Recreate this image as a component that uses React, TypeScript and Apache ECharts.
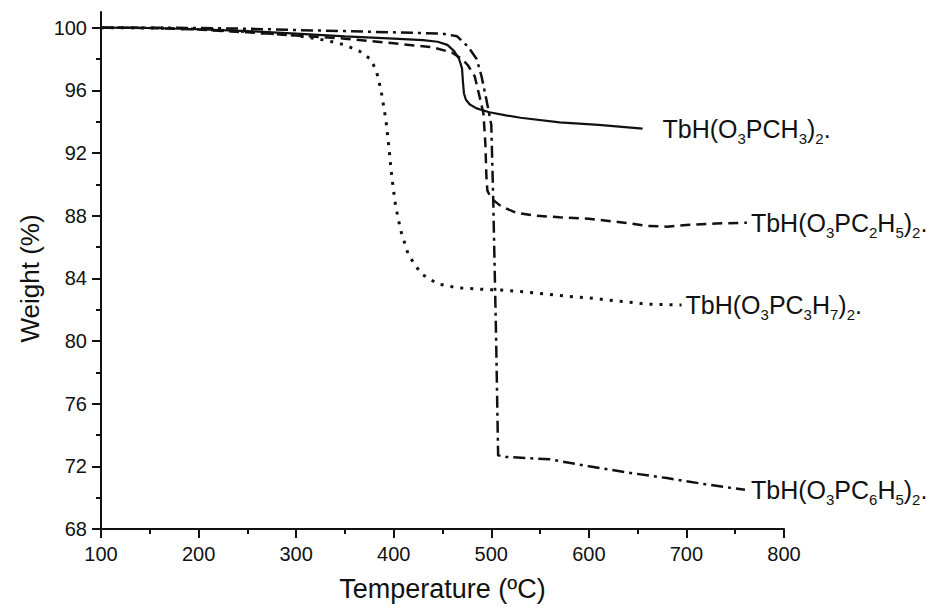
import React, { useEffect, useRef } from "react";
import * as echarts from "echarts";

// Axis ticks
const xMin = 100;
const xMax = 800;
const xStep = 100;
const yMin = 68;
const yMax = 101;
const yMajorTicks = [68, 72, 76, 80, 84, 88, 92, 96, 100];
const yMinorTicks = [70, 74, 78, 82, 86, 90, 94, 98];

// Series names
const names = [
  "TbH(O3PCH3)2.",
  "TbH(O3PC2H5)2.",
  "TbH(O3PC3H7)2.",
  "TbH(O3PC6H5)2.",
];

// Rich-text labels (main text / subscripts)
const labelRich = [
  "{m|TbH(O}{s|3}{m|PCH}{s|3}{m|)}{s|2}{m|.}",
  "{m|TbH(O}{s|3}{m|PC}{s|2}{m|H}{s|5}{m|)}{s|2}{m|.}",
  "{m|TbH(O}{s|3}{m|PC}{s|3}{m|H}{s|7}{m|)}{s|2}{m|.}",
  "{m|TbH(O}{s|3}{m|PC}{s|6}{m|H}{s|5}{m|)}{s|2}{m|.}",
];

// Temperature (°C), Weight (%)
const ch3 = [
  [100, 100], [150, 99.98], [200, 99.9], [250, 99.78], [300, 99.62], [350, 99.45],
  [400, 99.3], [430, 99.2], [445, 99.1], [455, 98.9], [462, 98.5], [467, 98.0],
  [470, 97.4], [471, 96.5], [472, 95.8], [474, 95.4], [478, 95.1], [485, 94.85],
  [498, 94.6], [515, 94.4], [530, 94.25], [570, 93.95], [610, 93.8], [655, 93.55],
];

const c2h5 = [
  [100, 100], [150, 99.98], [200, 99.88], [250, 99.7], [300, 99.5], [350, 99.3],
  [400, 99.0], [440, 98.75], [460, 98.4], [470, 98.0], [476, 97.6], [483, 96.9],
  [488, 95.6], [492, 94.5], [494, 92.5], [495, 90.5], [496, 89.6], [500, 89.1],
  [510, 88.6], [525, 88.2], [545, 88.0], [570, 87.9], [600, 87.8], [630, 87.6],
  [660, 87.35], [680, 87.3], [700, 87.4], [730, 87.5], [762, 87.55],
];

const c3h7 = [
  [100, 100], [150, 99.98], [200, 99.9], [250, 99.75], [300, 99.5], [330, 99.2],
  [350, 98.9], [365, 98.5], [376, 98.0], [382, 97.3], [387, 96.0], [392, 94.1],
  [395, 92.4], [398, 90.5], [402, 88.6], [407, 87.1], [415, 85.5], [428, 84.3],
  [445, 83.65], [465, 83.4], [490, 83.3], [510, 83.25], [540, 83.1], [570, 82.9],
  [600, 82.75], [630, 82.55], [660, 82.35], [695, 82.3],
];

const c6h5 = [
  [100, 100], [150, 100], [200, 99.98], [250, 99.93], [300, 99.85], [350, 99.78],
  [400, 99.7], [450, 99.62], [465, 99.45], [476, 98.8], [485, 98.0], [490, 96.9],
  [495, 95.4], [500, 93.8], [502, 89.0], [505, 80.0], [507, 72.7], [515, 72.6],
  [560, 72.45], [600, 72.0], [640, 71.6], [680, 71.25], [720, 70.85], [760, 70.5],
];

const FONT = "'Liberation Sans', Arial, Helvetica, sans-serif";
const INK = "#111";

export default function App() {
  const ref = useRef<HTMLDivElement>(null);

  useEffect(() => {
    document.body.style.margin = "0";
    const chart = echarts.init(ref.current!, null, { renderer: "svg" });

    const rich = {
      m: { fontSize: 25, fontFamily: FONT, color: INK },
      s: { fontSize: 15, fontFamily: FONT, color: INK, padding: [20, 0, 0, 0] },
    };

    const mk = (idx: number, data: number[][], lineType: any, width: number, gap: number) => ({
      type: "line",
      name: names[idx],
      data,
      symbol: "none",
      showSymbol: false,
      smooth: false,
      xAxisIndex: 0,
      yAxisIndex: 0,
      lineStyle: { color: INK, width, type: lineType },
      endLabel: {
        show: true,
        formatter: () => labelRich[idx],
        distance: 0,
        offset: [gap, 0],
        rich,
      },
      emphasis: { disabled: true },
      silent: true,
    });

    chart.setOption({
      animation: false,
      backgroundColor: "#fff",
      textStyle: { fontFamily: FONT },
      grid: { left: 101, right: 143, top: 12, bottom: 80, containLabel: false },
      xAxis: [
        {
          type: "value",
          min: xMin,
          max: xMax,
          interval: xStep,
          name: "Temperature (ºC)",
          nameLocation: "middle",
          nameGap: 46,
          nameTextStyle: { fontSize: 27, color: INK, fontFamily: FONT },
          axisLine: { show: true, onZero: false, lineStyle: { color: INK, width: 2 } },
          axisTick: { show: true, inside: false, length: 9, lineStyle: { color: INK, width: 2 } },
          minorTick: { show: true, splitNumber: 2, length: 5, lineStyle: { color: INK, width: 2 } },
          axisLabel: { fontSize: 20, color: INK, margin: 15, fontFamily: FONT },
          splitLine: { show: false },
          minorSplitLine: { show: false },
        },
      ],
      yAxis: [
        {
          type: "value",
          min: yMin,
          max: yMax,
          name: "Weight (%)",
          nameLocation: "middle",
          nameGap: 55,
          nameTextStyle: { fontSize: 26, color: INK, fontFamily: FONT, padding: [0, 16, 0, 0] },
          axisLine: { show: true, onZero: false, lineStyle: { color: INK, width: 2 } },
          axisTick: {
            show: true,
            inside: false,
            length: 9,
            customValues: yMajorTicks,
            lineStyle: { color: INK, width: 2 },
          },
          axisLabel: {
            fontSize: 20,
            color: INK,
            margin: 14,
            fontFamily: FONT,
            customValues: yMajorTicks,
          },
          splitLine: { show: false },
        },
        {
          type: "value",
          min: yMin,
          max: yMax,
          position: "left",
          axisLine: { show: false },
          axisTick: {
            show: true,
            inside: false,
            length: 5,
            customValues: yMinorTicks,
            lineStyle: { color: INK, width: 2 },
          },
          axisLabel: { show: false },
          splitLine: { show: false },
        },
      ],
      series: [
        mk(0, ch3, "solid", 2.2, 20),
        mk(1, c2h5, [10, 6], 2.5, 4),
        mk(2, c3h7, [3, 7], 3, 4),
        mk(3, c6h5, [12, 5, 3, 5], 2.5, 6),
      ],
    });

    return () => chart.dispose();
  }, []);

  return <div ref={ref} style={{ width: 927, height: 609 }} />;
}
